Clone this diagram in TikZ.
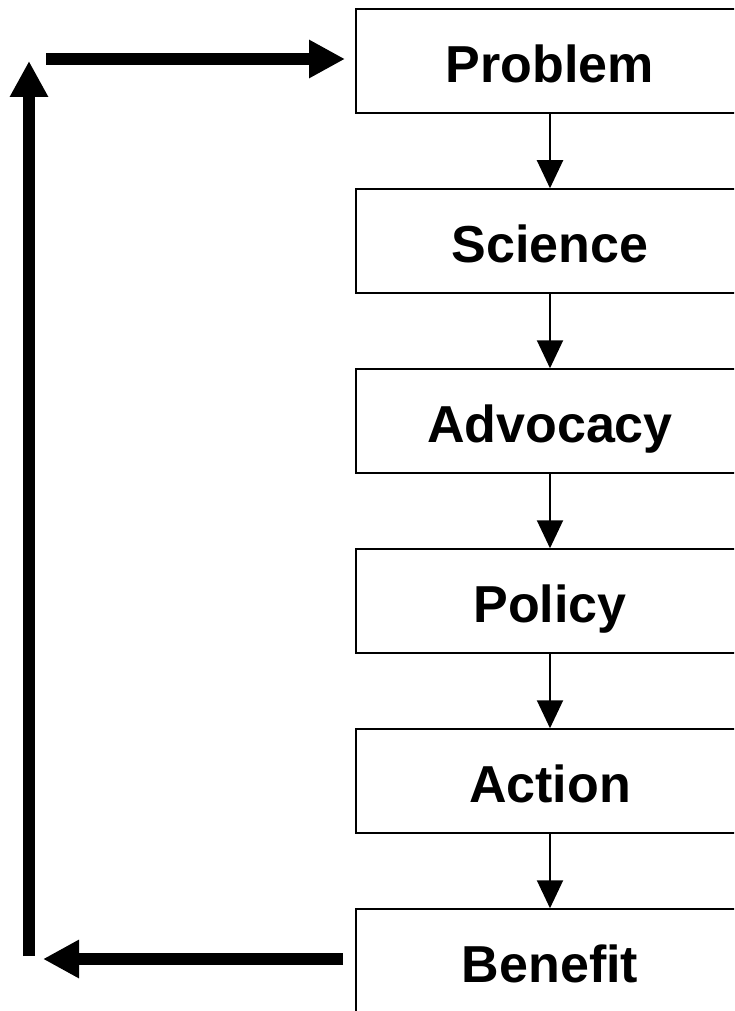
\documentclass[tikz,border=0pt]{standalone}
\usepackage{fontspec}
\setmainfont{Liberation Sans}
\usetikzlibrary{arrows.meta}
\begin{document}
\begin{tikzpicture}[x=1pt,y=1pt,
  stage/.style={draw=black, line width=1.5pt, minimum width=388pt, minimum height=104pt,
    inner sep=0pt, text height=43pt, text depth=0pt, font=\fontsize{52}{60}\selectfont\bfseries},
  flow/.style={line width=2pt, -{Triangle[length=28pt,width=26pt]}},
  bigarrow/.style={line width=12pt, -{Triangle[length=36pt,width=36pt]}}]
\useasboundingbox (0,0) rectangle (734,-1011);
\clip (0,0) rectangle (734,-1011);
\fill[white] (0,0) rectangle (734,-1011);
\node[stage] (problem) at (550,-61) {Problem};
\node[stage] (science) at (550,-241) {Science};
\node[stage] (advocacy) at (550,-421) {Advocacy};
\node[stage] (policy) at (550,-601) {Policy};
\node[stage] (action) at (550,-781) {Action};
\node[stage] (benefit) at (550,-961) {Benefit};
\draw[flow] (problem) -- (science);
\draw[flow] (science) -- (advocacy);
\draw[flow] (advocacy) -- (policy);
\draw[flow] (policy) -- (action);
\draw[flow] (action) -- (benefit);
\coordinate (botstart) at (343,-959);
\coordinate (botend) at (43,-959);
\coordinate (vstart) at (29,-956);
\coordinate (vend) at (29,-61);
\coordinate (topstart) at (46,-59);
\coordinate (topend) at (345,-59);
\draw[bigarrow] (botstart) -- (botend);
\draw[bigarrow] (vstart) -- (vend);
\draw[bigarrow] (topstart) -- (topend);
\end{tikzpicture}
\end{document}
